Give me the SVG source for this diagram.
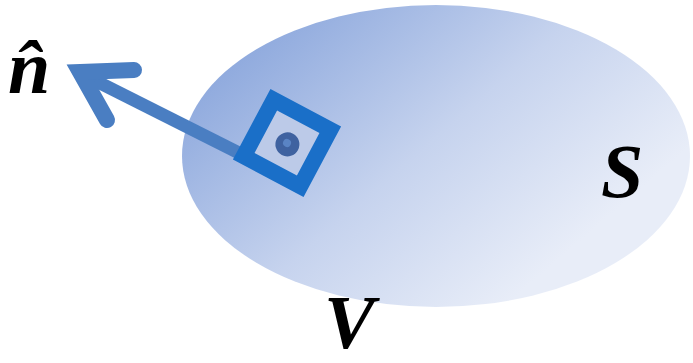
<svg xmlns="http://www.w3.org/2000/svg" width="693" height="363" viewBox="0 0 693 363">
<style>
.lbl{font-family:"Liberation Serif","Times New Roman",serif;font-weight:bold;font-style:italic;font-size:76px;fill:#000}
</style>
<defs>
<linearGradient id="g" gradientUnits="userSpaceOnUse" x1="250" y1="20" x2="500" y2="310">
<stop offset="0" stop-color="#8aa6dc"/>
<stop offset="0.55" stop-color="#c6d3ee"/>
<stop offset="1" stop-color="#e8edf8"/>
</linearGradient>
</defs>
<rect width="693" height="363" fill="#fff"/>
<g id="volume">
<ellipse cx="436" cy="156" rx="254" ry="151" fill="url(#g)"/>
</g>
<g id="connectors">
<line x1="80" y1="73" x2="245" y2="156" stroke="#4a7ec2" stroke-width="13"/>
<path d="M134,70 L80,72 L107,120" fill="none" stroke="#4a7ec2" stroke-width="16" stroke-linecap="round" stroke-linejoin="miter" stroke-miterlimit="10"/>
</g>
<g id="element" transform="translate(287,143) rotate(28)">
<rect x="-32" y="-32" width="64" height="64" fill="#bccae8" stroke="#1a6fc8" stroke-width="16" stroke-linejoin="miter"/>
<circle cx="1" cy="1" r="12" fill="#3f62a0"/>
<circle cx="0" cy="0" r="4" fill="#5a84c4"/>
</g>
<g id="labels">
<text class="lbl" x="324" y="348" font-size="62">V</text>
<text class="lbl" x="8" y="93">n̂</text>
<text class="lbl" x="601" y="197">S</text>
</g>
</svg>
